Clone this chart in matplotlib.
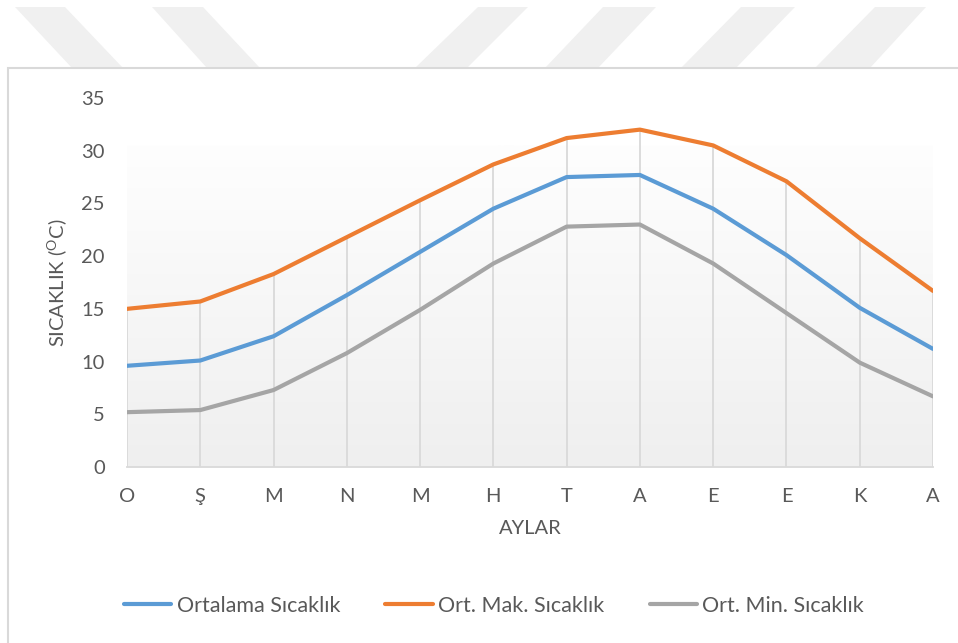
import numpy as np
import matplotlib
matplotlib.use("Agg")
import matplotlib.pyplot as plt
from matplotlib.patches import Polygon, Rectangle
from matplotlib.colors import LinearSegmentedColormap

plt.rcParams['font.family'] = ['Lato', 'DejaVu Sans']
plt.rcParams['mathtext.fontset'] = 'custom'
plt.rcParams['mathtext.rm'] = 'Lato'

# ---- data ----
months = ["O", "Ş", "M", "N", "M", "H", "T", "A", "E", "E", "K", "A"]
ortalama = [9.6, 10.1, 12.4, 16.3, 20.4, 24.5, 27.5, 27.7, 24.5, 20.1, 15.1, 11.2]
ort_mak = [15.0, 15.7, 18.3, 21.8, 25.3, 28.7, 31.2, 32.0, 30.5, 27.1, 21.7, 16.7]
ort_min = [5.2, 5.4, 7.3, 10.8, 14.9, 19.3, 22.8, 23.0, 19.3, 14.6, 9.9, 6.7]
series_names = ["Ortalama Sıcaklık", "Ort. Mak. Sıcaklık", "Ort. Min. Sıcaklık"]
yticks = [0, 5, 10, 15, 20, 25, 30, 35]

W, H = 958, 643
fig = plt.figure(figsize=(W / 100, H / 100), dpi=100)

# background overlay (watermark + chart border)
bg = fig.add_axes([0, 0, 1, 1], zorder=-5)
bg.set_xlim(0, W)
bg.set_ylim(H, 0)
bg.axis('off')
stripes = [
    [(15, 7), (65, 7), (123, 68), (72, 68)],
    [(152, 7), (203, 7), (260, 68), (207, 68)],
    [(478, 7), (528, 7), (467, 68), (415, 68)],
    [(603, 7), (656, 7), (598, 68), (545, 68)],
    [(741, 7), (795, 7), (736, 68), (681, 68)],
    [(875, 7), (926, 7), (870, 68), (815, 68)],
]
for s in stripes:
    bg.add_patch(Polygon(s, closed=True, facecolor='#f0f0f0', edgecolor='none'))
bg.add_patch(Rectangle((8, 68), 1000, 700, facecolor='white', edgecolor='#d9d9d9', lw=1.5))

# main axes
left, right = 127 / W, 933 / W
bottom, top = 1 - 467 / H, 1 - 98 / H
ax = fig.add_axes([left, bottom, right - left, top - bottom])
ax.set_facecolor('none')
x = np.arange(len(months))
ax.set_xlim(0, len(months) - 1)
ax.set_ylim(0, 35)

# gradient plot-area fill
grad_top = (467 - 145) / (467 - 98) * 35
cmap = LinearSegmentedColormap.from_list('g', ['#efefef', '#fefefe'])
ax.imshow(np.linspace(0, 1, 256).reshape(-1, 1), extent=[0, len(months) - 1, 0, grad_top],
          origin='lower', aspect='auto', cmap=cmap, zorder=0)

# drop lines
ax.vlines(x, 0, ort_mak, color='#d9d9d9', lw=1.3, zorder=1)

colors = ['#5B9BD5', '#ED7D31', '#A5A5A5']
for vals, c, name in zip([ortalama, ort_mak, ort_min], colors, series_names):
    ax.plot(x, vals, color=c, lw=3.0, label=name, zorder=3, solid_joinstyle='round', solid_capstyle='round')

for sp in ['top', 'right', 'left']:
    ax.spines[sp].set_visible(False)
ax.spines['bottom'].set_color('#d9d9d9')
ax.spines['bottom'].set_linewidth(1.3)

ax.set_xticks(x)
ax.set_xticklabels(months)
ax.set_yticks(yticks)
ax.tick_params(axis='both', length=0, labelsize=14.5, colors='#595959')
ax.tick_params(axis='y', pad=16)
ax.tick_params(axis='x', pad=15)

ax.set_xlabel('AYLAR', fontsize=14.5, color='#595959', labelpad=11)
ax.set_ylabel('SICAKLIK ($\\mathregular{^{O}}$C)', fontsize=14.5, color='#595959', labelpad=9)

leg = fig.legend(loc='center', bbox_to_anchor=(494 / W, 1 - 606 / H), ncol=3, frameon=False,
                 fontsize=15.5, labelcolor='#595959', handlelength=2.2, handletextpad=0.25,
                 columnspacing=2.1)

fig.savefig('out.png', dpi=100)
